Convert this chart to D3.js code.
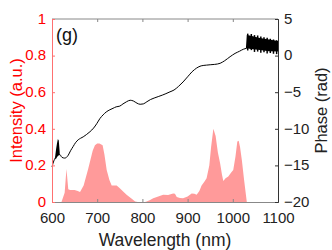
<!DOCTYPE html>
<meta charset="utf-8">
<body style="margin:0;background:#fff">
<script src="https://cdn.jsdelivr.net/npm/d3@7"></script>
<script>
// spectrum (left axis)
var specWl = [621,628,632,636,640,650,657,662,670,680,690,695,700,705,712,716,721,727,732,737,743,750,758,765,775,784,790,805,808,816,824,835,846,857,868,872,876,883,890,900,909,915,920,926,931,937,942,948,952,957,962,967,972,976,979,984,990,996,1001,1006,1010,1013,1016,1020,1025,1031];
var specI  = [0,0.05,0.18,0.07,0.065,0.065,0.06,0.055,0.09,0.18,0.28,0.31,0.32,0.32,0.31,0.26,0.175,0.12,0.09,0.09,0.09,0.075,0.056,0.04,0.02,0.003,0,0,0.002,0.01,0.02,0.03,0.04,0.038,0.047,0.045,0.028,0.022,0.02,0.03,0.047,0.045,0.04,0.06,0.09,0.11,0.13,0.2,0.3,0.4,0.36,0.27,0.21,0.15,0.115,0.13,0.14,0.16,0.175,0.25,0.33,0.335,0.3,0.23,0.12,0];

// phase (right axis)
var phWl = [600,604,609,617,622,628,632,636,641,647,652,658,663,669,676,684,692,699,706,713,720,728,735,742,750,757,765,773,780,788,795,802,810,818,826,835,844,852,861,870,880,890,900,910,920,930,942,950,960,972,982,994,1005,1015,1023,1030];
var phVal = [-15.2,-14.4,-13.8,-13.5,-13.9,-14.0,-13.9,-13.6,-13.0,-12.4,-11.9,-11.5,-11.3,-11.1,-10.8,-10.4,-9.9,-9.3,-8.6,-8.1,-7.7,-7.4,-7.2,-7.0,-6.9,-6.6,-6.3,-6.1,-6.2,-6.5,-6.65,-6.6,-6.3,-6.0,-5.8,-5.6,-5.4,-5.2,-4.95,-4.7,-4.2,-3.6,-2.9,-2.2,-1.7,-1.4,-1.3,-1.25,-1.2,-1.05,-0.7,-0.15,0.3,0.6,0.86,1.0];

// noisy parts of the phase, as envelopes
var noise1Wl = [607,609,611,613,615,617];
var noise1Hi = [-13.8,-12.8,-12.0,-11.4,-11.6,-13.2];
var noise1Lo = [-14.2,-14.1,-13.9,-13.7,-13.6,-13.6];
var noise2Wl = [1029,1031,1040,1060,1080,1100];
var noise2Hi = [1.0,2.8,2.7,2.4,2.2,2.0];
var noise2Lo = [0.9,1.0,0.9,0.75,0.6,0.55];
// single spikes sticking out of the noisy band
var spikeWl  = [1033,1041,1048,1055,1062,1069,1076,1083,1090,1097];
var spikeTop = [3.0,2.95,2.8,2.75,2.6,2.5,2.45,2.3,2.2,2.1];
var spikeBot = [0.7,0.75,0.5,0.55,0.4,0.45,0.3,0.35,0.25,0.2];

var xTicks = [600,700,800,900,1000,1100];
var iTicks = [0,0.2,0.4,0.6,0.8,1];
var pTicks = [-20,-15,-10,-5,0,5];

var margin = {top: 19, right: 54, bottom: 48, left: 52},
  width = 332 - margin.left - margin.right,
  height = 250 - margin.top - margin.bottom;

var svg = d3.select("body").append("svg")
    .attr("width", 332).attr("height", 250)
    .style("font-family", "Liberation Sans, Arial, sans-serif");
var g = svg.append("g")
    .attr("transform", "translate(" + margin.left + "," + margin.top + ")");

var x = d3.scaleLinear().domain([600, 1100]).range([0, width]);
var yI = d3.scaleLinear().domain([0, 1]).range([height, 0]);
var yP = d3.scaleLinear().domain([-20, 5]).range([height, 0]);

// spectrum fill
var spec = specWl.map(function(w, i) { return [w, specI[i]]; });
g.append("path").datum(spec)
    .attr("fill", "#ff9a9a")
    .attr("d", d3.area()
        .x(function(d) { return x(d[0]); })
        .y0(yI(0))
        .y1(function(d) { return yI(d[1]); }));

// phase line
var ph = phWl.map(function(w, i) { return [w, phVal[i]]; });
g.append("path").datum(ph)
    .attr("fill", "none").attr("stroke", "#000").attr("stroke-width", 1)
    .attr("d", d3.line()
        .curve(d3.curveMonotoneX)
        .x(function(d) { return x(d[0]); })
        .y(function(d) { return yP(d[1]); }));

function band(wl, hi, lo) {
  var d = wl.map(function(w, i) { return [w, hi[i], lo[i]]; });
  g.append("path").datum(d)
      .attr("fill", "#000")
      .attr("d", d3.area()
          .x(function(d) { return x(d[0]); })
          .y0(function(d) { return yP(d[2]); })
          .y1(function(d) { return yP(d[1]); }));
}
band(noise1Wl, noise1Hi, noise1Lo);
band(noise2Wl, noise2Hi, noise2Lo);

g.selectAll(".spike").data(spikeWl).enter().append("line")
    .attr("x1", function(d) { return x(d); })
    .attr("x2", function(d) { return x(d); })
    .attr("y1", function(d, i) { return yP(spikeTop[i]); })
    .attr("y2", function(d, i) { return yP(spikeBot[i]); })
    .attr("stroke", "#000").attr("stroke-width", 1.5);

// box
g.append("line").attr("x1", 0).attr("x2", width).attr("y1", 0).attr("y2", 0)
    .attr("stroke", "#888");

// bottom axis
var xb = g.append("g").attr("transform", "translate(0," + height + ")")
    .call(d3.axisBottom(x).tickValues(xTicks).tickSize(-3).tickPadding(10)
        .tickFormat(d3.format("d")));
xb.select(".domain").attr("stroke", "#888");
xb.selectAll(".tick line").attr("stroke", "#888");
xb.selectAll("text").attr("font-size", 15).attr("fill", "#222");

// top ticks
var xt = g.append("g")
    .call(d3.axisTop(x).tickValues(xTicks).tickSize(-3).tickFormat(""));
xt.select(".domain").remove();
xt.selectAll(".tick line").attr("stroke", "#888");

// left axis (red)
var yl = g.append("g")
    .call(d3.axisLeft(yI).tickValues(iTicks).tickSize(-3).tickPadding(6)
        .tickFormat(function(d) { return d; }));
yl.select(".domain").attr("stroke", "#ff7070");
yl.selectAll(".tick line").attr("stroke", "#ff7070");
yl.selectAll("text").attr("font-size", 15).attr("fill", "#ff0000").attr("dy", "0.28em");

// right axis (black)
var yr = g.append("g").attr("transform", "translate(" + width + ",0)")
    .call(d3.axisRight(yP).tickValues(pTicks).tickSize(-3).tickPadding(6));
yr.select(".domain").attr("stroke", "#333");
yr.selectAll(".tick line").attr("stroke", "#333");
yr.selectAll("text").attr("font-size", 15).attr("fill", "#222").attr("dy", "0.28em");

// labels
svg.append("text")
    .attr("transform", "translate(22," + (margin.top + height / 2) + ") rotate(-90)")
    .attr("text-anchor", "middle").attr("font-size", 16.5).attr("fill", "#ff0000")
    .text("Intensity (a.u.)");
svg.append("text")
    .attr("transform", "translate(327," + (margin.top + height / 2) + ") rotate(-90)")
    .attr("text-anchor", "middle").attr("font-size", 16.5).attr("fill", "#222")
    .text("Phase (rad)");
svg.append("text")
    .attr("x", margin.left + width / 2).attr("y", 246)
    .attr("text-anchor", "middle").attr("font-size", 17.5).attr("fill", "#222")
    .text("Wavelength (nm)");
g.append("text").attr("x", 4).attr("y", 22)
    .attr("font-size", 18).attr("fill", "#111")
    .text("(g)");
</script>
</body>
